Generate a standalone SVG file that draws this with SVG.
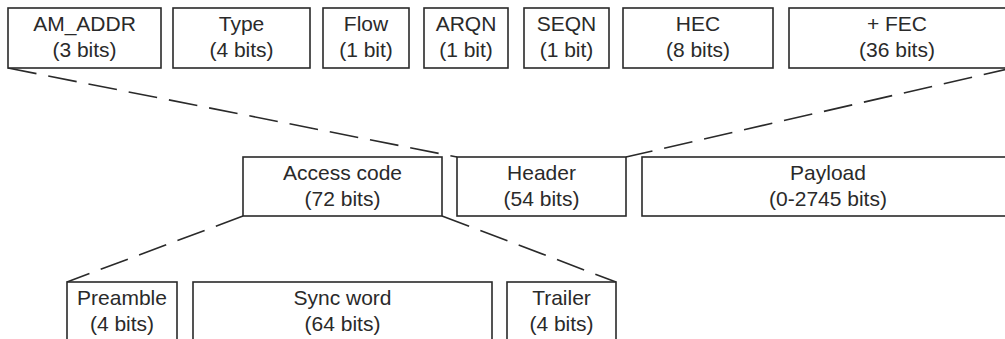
<svg xmlns="http://www.w3.org/2000/svg" width="1005" height="339" viewBox="0 0 1005 339">
<style>
.box{fill:#fff;stroke:#2a2a2a;stroke-width:1.6}
.t{font-family:"Liberation Sans",Arial,sans-serif;font-size:21px;fill:#2a2a2a;text-anchor:middle}
.dash{fill:none;stroke:#2a2a2a;stroke-width:1.6;stroke-dasharray:29 12}
</style>
<rect width="1005" height="339" fill="#fff"/>
<g id="connectors">
<line class="dash" x1="8" y1="68" x2="457" y2="157"/>
<line class="dash" x1="1012" y1="68" x2="626" y2="157"/>
<line class="dash" x1="243" y1="216" x2="67" y2="282"/>
<line class="dash" x1="442" y1="216" x2="616" y2="282"/>
</g>
<g id="am_addr"><rect class="box" x="8" y="8" width="153" height="60"/><text class="t" x="84.5" y="31">AM_ADDR</text><text class="t" x="84.5" y="57">(3 bits)</text></g>
<g id="type"><rect class="box" x="173" y="8" width="137" height="60"/><text class="t" x="241.5" y="31">Type</text><text class="t" x="241.5" y="57">(4 bits)</text></g>
<g id="flow"><rect class="box" x="323" y="8" width="86" height="60"/><text class="t" x="366" y="31">Flow</text><text class="t" x="366" y="57">(1 bit)</text></g>
<g id="arqn"><rect class="box" x="424" y="8" width="84" height="60"/><text class="t" x="466" y="31">ARQN</text><text class="t" x="466" y="57">(1 bit)</text></g>
<g id="seqn"><rect class="box" x="524" y="8" width="85" height="60"/><text class="t" x="566.5" y="31">SEQN</text><text class="t" x="566.5" y="57">(1 bit)</text></g>
<g id="hec"><rect class="box" x="623" y="8" width="150" height="60"/><text class="t" x="698" y="31">HEC</text><text class="t" x="698" y="57">(8 bits)</text></g>
<g id="fec"><rect class="box" x="789" y="8" width="230" height="60"/><text class="t" x="897" y="31">+ FEC</text><text class="t" x="897" y="57">(36 bits)</text></g>
<g id="access_code"><rect class="box" x="243" y="157" width="199" height="59"/><text class="t" x="342.5" y="180">Access code</text><text class="t" x="342.5" y="206">(72 bits)</text></g>
<g id="header"><rect class="box" x="457" y="157" width="169" height="59"/><text class="t" x="541.5" y="180">Header</text><text class="t" x="541.5" y="206">(54 bits)</text></g>
<g id="payload"><rect class="box" x="642" y="157" width="380" height="59"/><text class="t" x="828" y="180">Payload</text><text class="t" x="828" y="206">(0-2745 bits)</text></g>
<g id="preamble"><rect class="box" x="67" y="282" width="110" height="70"/><text class="t" x="122" y="305">Preamble</text><text class="t" x="122" y="331">(4 bits)</text></g>
<g id="sync_word"><rect class="box" x="193" y="282" width="299" height="70"/><text class="t" x="342.5" y="305">Sync word</text><text class="t" x="342.5" y="331">(64 bits)</text></g>
<g id="trailer"><rect class="box" x="507" y="282" width="109" height="70"/><text class="t" x="561.5" y="305">Trailer</text><text class="t" x="561.5" y="331">(4 bits)</text></g>
</svg>
